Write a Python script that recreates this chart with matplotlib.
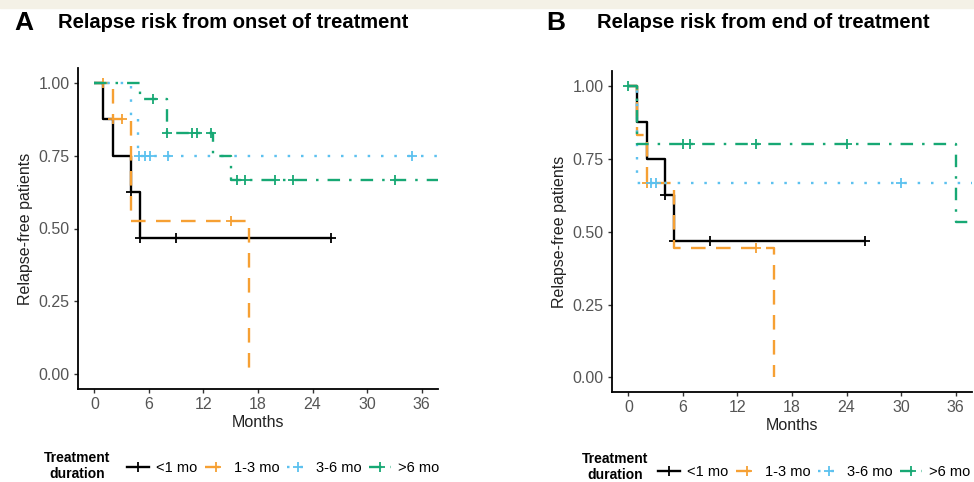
import numpy as np
import matplotlib
matplotlib.use("Agg")
import matplotlib.pyplot as plt
from matplotlib.lines import Line2D
from matplotlib.patches import Rectangle

plt.rcParams['font.family'] = ['Liberation Sans', 'DejaVu Sans']
plt.rcParams['lines.scale_dashes'] = False

# ------------------------------
# data (months, survival)
# ------------------------------
groups = ["<1 mo", "1-3 mo", "3-6 mo", ">6 mo"]
colors = ["#000000", "#F6A033", "#5CC1EF", "#17A874"]
styles = ["-", (0, (10.5, 7.5)), (0, (1.8, 7.8)), (0, (9, 6.5, 1.8, 6.5))]

# A: from onset of treatment
a_lt1_t = [0, 1, 2, 4, 5, 26]
a_lt1_s = [1, 0.875, 0.75, 0.625, 0.469, 0.469]
a_lt1_c = [4, 5, 9, 26]

a_1to3_t = [0, 2, 4, 17]
a_1to3_s = [1, 0.875, 0.525, 0]
a_1to3_c = [1, 2, 3, 15]

a_3to6_t = [0, 4, 4.8, 37.8]
a_3to6_s = [1, 0.875, 0.75, 0.75]
a_3to6_c = [4.9, 5.6, 6.1, 8.1, 34.9]

a_gt6_t = [0, 5, 8, 13, 15, 37.8]
a_gt6_s = [1, 0.944, 0.826, 0.75, 0.667, 0.667]
a_gt6_c = [6.5, 8, 10.7, 11.3, 12.8, 15.7, 16.6, 19.9, 21.9, 33.1]

# B: from end of treatment
b_lt1_t = [0, 1, 2, 4, 5, 26]
b_lt1_s = [1, 0.875, 0.75, 0.625, 0.469, 0.469]
b_lt1_c = [4, 5, 9, 26]

b_1to3_t = [0, 1, 2, 5, 16]
b_1to3_s = [1, 0.833, 0.667, 0.444, 0]
b_1to3_c = [2, 14]

b_3to6_t = [0, 1, 37.8]
b_3to6_s = [1, 0.667, 0.667]
b_3to6_c = [2.5, 3, 30]

b_gt6_t = [0, 1, 36, 37.8]
b_gt6_s = [1, 0.8, 0.533, 0.533]
b_gt6_c = [0, 6, 6.8, 14, 24]

x_ticks = [0, 6, 12, 18, 24, 30, 36]
y_ticks = [0.00, 0.25, 0.50, 0.75, 1.00]

W, H = 974, 482


def surv_at(t, s, c):
    # value of the step curve at each censoring time
    idx = np.searchsorted(t, c, side="right") - 1
    return np.asarray(s)[idx]


def draw_panel(ax, series):
    for (t, s, c), col, ls in zip(series, colors, styles):
        ax.plot(t, s, drawstyle="steps-post", color=col, linestyle=ls,
                lw=1.7, solid_capstyle="butt", dash_capstyle="butt")
        ax.plot(c, surv_at(t, s, c), linestyle="none", marker="+",
                ms=7.5, mew=1.3, color=col)
    ax.set_xlim(-1.8, 37.8)
    ax.set_ylim(-0.05, 1.05)
    ax.set_xticks(x_ticks)
    ax.set_yticks(y_ticks)
    ax.set_yticklabels([f"{v:.2f}" for v in y_ticks])
    for side in ["top", "right"]:
        ax.spines[side].set_visible(False)
    for side in ["left", "bottom"]:
        ax.spines[side].set_linewidth(1.3)
    ax.tick_params(length=3, width=1, color="#333333", labelcolor="#555555",
                   labelsize=11.5, pad=3)
    ax.set_xlabel("Months", fontsize=11.5, color="#222222", labelpad=2)
    ax.set_ylabel("Relapse-free patients", fontsize=11.5, color="#222222", labelpad=4)


fig = plt.figure(figsize=(W / 100, H / 100), dpi=100)
fig.patches.append(Rectangle((0, 1 - 8 / H), 1, 8 / H, transform=fig.transFigure,
                             color="#F4F1E6", zorder=0))

ax_a = fig.add_axes([78 / W, 1 - 389 / H, 360 / W, 321 / H])
ax_b = fig.add_axes([612 / W, 1 - 392 / H, 360 / W, 320.6 / H])

draw_panel(ax_a, [(a_lt1_t, a_lt1_s, a_lt1_c), (a_1to3_t, a_1to3_s, a_1to3_c),
                  (a_3to6_t, a_3to6_s, a_3to6_c), (a_gt6_t, a_gt6_s, a_gt6_c)])
draw_panel(ax_b, [(b_lt1_t, b_lt1_s, b_lt1_c), (b_1to3_t, b_1to3_s, b_1to3_c),
                  (b_3to6_t, b_3to6_s, b_3to6_c), (b_gt6_t, b_gt6_s, b_gt6_c)])

# panel titles
fig.text(14 / W, 1 - 23 / H, "A", fontsize=19, fontweight="bold", va="center")
fig.text(58 / W, 1 - 23 / H, "Relapse risk from onset of treatment",
         fontsize=14.5, fontweight="bold", va="center")
fig.text(546 / W, 1 - 23 / H, "B", fontsize=19, fontweight="bold", va="center")
fig.text(597 / W, 1 - 23 / H, "Relapse risk from end of treatment",
         fontsize=14.5, fontweight="bold", va="center")

# legends
handles = [Line2D([], [], color=c, linestyle=ls, lw=1.7, marker="+", ms=7.5, mew=1.3)
           for c, ls in zip(colors, styles)]
for tx, ty, lx, ly in [(77, 466, 127, 468), (615, 467, 658, 472)]:
    fig.text(tx / W, 1 - ty / H, "Treatment\nduration", fontsize=10,
             fontweight="bold", ha="center", va="center", linespacing=1.15)
    fig.legend(handles, groups, loc="center left", bbox_to_anchor=(lx / W, 1 - ly / H),
               ncol=4, frameon=False, fontsize=10.5, borderpad=0, borderaxespad=0,
               handlelength=1.5, handletextpad=0.5, columnspacing=0.5)

fig.savefig("out.png", dpi=100)
